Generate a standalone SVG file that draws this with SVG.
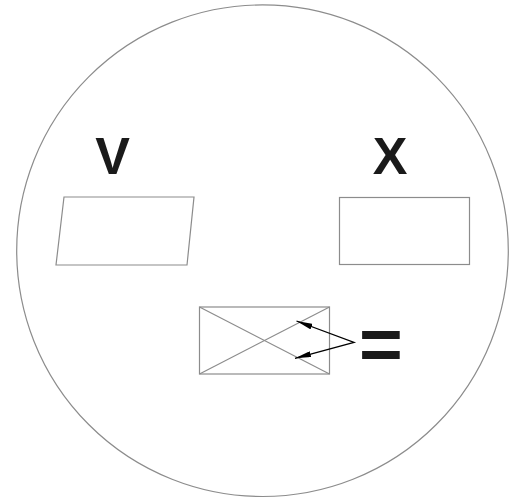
<svg xmlns="http://www.w3.org/2000/svg" width="520" height="501" viewBox="0 0 520 501">
<style>
.sh{fill:#fff;stroke:#8c8c8c;stroke-width:1.2}
.ln{fill:none;stroke:#8c8c8c;stroke-width:1.2}
.lbl{font-family:"Liberation Sans",Arial,sans-serif;font-weight:bold;fill:#1a1a1a;text-anchor:middle}
.ar{fill:none;stroke:#000;stroke-width:1.3}
</style>
<defs>
<marker id="ah" viewBox="0 0 16 6" refX="16" refY="3" markerWidth="16" markerHeight="6" markerUnits="userSpaceOnUse" orient="auto-start-reverse">
<path d="M0,0 L16,3 L0,6 z" fill="#000"/>
</marker>
</defs>
<g id="frame"><circle cx="262.5" cy="250.7" r="245.8" class="sh"/></g>
<g id="nodeV">
<text x="112.5" y="174" font-size="52" class="lbl">V</text>
<polygon points="64,197 194,197 187,265 56,265" class="sh"/>
</g>
<g id="nodeX">
<text x="390" y="174" font-size="52" class="lbl">X</text>
<rect x="339.5" y="197.5" width="130" height="67" class="sh"/>
</g>
<g id="nodeBox">
<rect x="199.5" y="307" width="130" height="67" class="sh"/>
<line x1="199.5" y1="307" x2="329.5" y2="374" class="ln"/>
<line x1="199.5" y1="374" x2="329.5" y2="307" class="ln"/>
</g>
<g id="nodeEq"><text x="381" y="370" font-size="75" class="lbl">=</text></g>
<g id="connectors">
<polyline points="296.5,321 354,342.3 295,358.3" class="ar" marker-start="url(#ah)" marker-end="url(#ah)"/>
</g>
</svg>
